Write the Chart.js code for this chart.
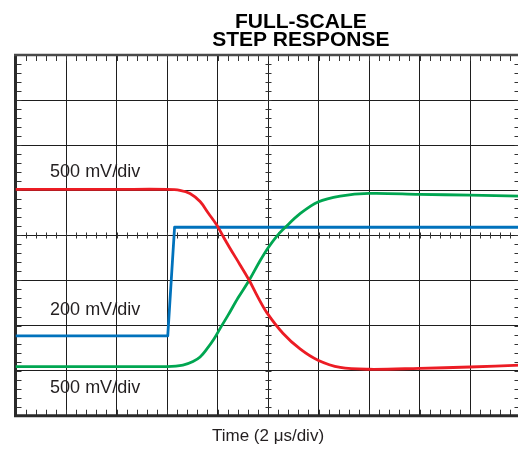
<!DOCTYPE html>
<html><head><meta charset="utf-8">
<script src="https://cdn.jsdelivr.net/npm/chart.js@4.4.1/dist/chart.umd.min.js"></script>
<style>
html,body{margin:0;padding:0;background:#fff;overflow:hidden;width:518px;height:449px}
#wrap{position:relative;width:524px;height:449px}
</style></head>
<body><div id="wrap"><canvas id="c" width="524" height="449"></canvas></div>
<script>
// Time axis in microseconds (2 µs/div, 10 divisions); vertical in screen divisions (8 divisions)
const titleLines = ['FULL-SCALE', 'STEP RESPONSE'];
const xAxisTitle = 'Time (2 \u03BCs/div)';
const traceLabels = ['500 mV/div', '200 mV/div', '500 mV/div'];

const redTime  = [0, 2, 4, 6.0, 6.51, 6.91, 7.31, 7.64, 7.97, 8.23, 8.50, 8.89, 9.25, 9.60, 9.96, 10.59, 11.27, 11.98, 12.86, 14.0, 16.0, 18.0, 20.0];
const redLevel = [5.02, 5.02, 5.02, 5.02, 5.00, 4.93, 4.75, 4.49, 4.23, 3.97, 3.71, 3.35, 3.01, 2.63, 2.28, 1.83, 1.48, 1.23, 1.07, 1.03, 1.05, 1.08, 1.12];

const greenTime  = [0, 2, 4, 6.0, 6.63, 7.03, 7.31, 7.58, 7.86, 8.14, 8.42, 8.81, 9.25, 9.68, 10.0, 10.36, 10.67, 11.27, 11.98, 12.86, 14.0, 16.0, 18.0, 20.0];
const greenLevel = [1.09, 1.09, 1.09, 1.09, 1.12, 1.20, 1.30, 1.48, 1.70, 1.97, 2.23, 2.61, 3.00, 3.43, 3.72, 3.99, 4.17, 4.48, 4.74, 4.87, 4.93, 4.91, 4.89, 4.87];

const blueTime  = [0, 6.03, 6.30, 20.0];
const blueLevel = [1.77, 1.77, 4.18, 4.18];

const toPts = (xs, ys) => xs.map((v, i) => ({x: v, y: ys[i]}));

const scopePlugin = {
  id: 'scope',
  beforeDatasetsDraw(chart) {
    const {ctx, chartArea: a, scales: {x, y}} = chart;
    ctx.save();
    ctx.strokeStyle = '#333';
    ctx.lineWidth = 1;
    ctx.beginPath();
    const cy = Math.round(y.getPixelForValue(4)) + 0.5;
    const cx = Math.round(x.getPixelForValue(10)) + 0.5;
    for (let i = 1; i < 50; i++) {
      const px = Math.round(x.getPixelForValue(i * 0.4)) + 0.5;
      ctx.moveTo(px, a.top); ctx.lineTo(px, a.top + 6);
      ctx.moveTo(px, a.bottom); ctx.lineTo(px, a.bottom - 6);
      ctx.moveTo(px, cy - 3); ctx.lineTo(px, cy + 3);
    }
    for (let j = 1; j < 40; j++) {
      const py = Math.round(y.getPixelForValue(j * 0.2)) + 0.5;
      ctx.moveTo(a.left, py); ctx.lineTo(a.left + 6, py);
      ctx.moveTo(a.right, py); ctx.lineTo(a.right - 6, py);
      ctx.moveTo(cx - 3, py); ctx.lineTo(cx + 3, py);
    }
    ctx.stroke();
    // frame
    ctx.strokeStyle = '#2a2a2a';
    ctx.lineWidth = 3;
    ctx.beginPath();
    ctx.moveTo(a.left, a.top); ctx.lineTo(a.left, a.bottom);
    ctx.moveTo(a.left - 1.5, a.bottom); ctx.lineTo(a.right + 1.5, a.bottom);
    ctx.moveTo(a.right, a.top); ctx.lineTo(a.right, a.bottom);
    ctx.stroke();
    ctx.strokeStyle = '#4a4a4a';
    ctx.lineWidth = 2.5;
    ctx.beginPath();
    ctx.moveTo(a.left - 1.5, a.top); ctx.lineTo(a.right + 1.5, a.top);
    ctx.stroke();
    ctx.restore();
  },
  afterDraw(chart) {
    const {ctx, chartArea: a, scales: {x, y}} = chart;
    ctx.save();
    // title
    ctx.fillStyle = '#000';
    ctx.font = 'bold 21px "Liberation Sans", Arial, sans-serif';
    ctx.textAlign = 'center';
    ctx.textBaseline = 'alphabetic';
    const tx = x.getPixelForValue(11.3);
    ctx.fillText(titleLines[0], tx, a.top - 27.5);
    ctx.fillText(titleLines[1], tx, a.top - 9);
    // trace labels
    ctx.fillStyle = '#231f20';
    ctx.font = '18px "Liberation Sans", Arial, sans-serif';
    ctx.textAlign = 'left';
    const lx = x.getPixelForValue(1.37);
    ctx.fillText(traceLabels[0], lx, y.getPixelForValue(5.29));
    ctx.fillText(traceLabels[1], lx, y.getPixelForValue(2.23));
    ctx.fillText(traceLabels[2], lx, y.getPixelForValue(0.50));
    ctx.restore();
  }
};

new Chart(document.getElementById('c'), {
  type: 'line',
  data: {
    datasets: [
      {data: toPts(redTime, redLevel), borderColor: '#ec1c24', borderWidth: 2.8, pointRadius: 0, tension: 0.35},
      {data: toPts(greenTime, greenLevel), borderColor: '#00a651', borderWidth: 2.8, pointRadius: 0, tension: 0.35},
      {data: toPts(blueTime, blueLevel), borderColor: '#0072bc', borderWidth: 2.8, pointRadius: 0, tension: 0, borderJoinStyle: 'round'}
    ]
  },
  options: {
    responsive: false,
    animation: false,
    devicePixelRatio: 1,
    layout: {padding: {left: 15.5, right: 3.5, top: 55, bottom: 2.3}},
    plugins: {legend: {display: false}, tooltip: {enabled: false}, title: {display: false}},
    scales: {
      x: {
        type: 'linear', min: 0, max: 20,
        ticks: {display: false, stepSize: 2},
        grid: {color: '#1e1e1e', lineWidth: 1, drawTicks: false},
        border: {display: false},
        title: {display: true, text: xAxisTitle, color: '#231f20', font: {family: '"Liberation Sans", Arial, sans-serif', size: 17}, padding: {top: 10.6, bottom: 0}}
      },
      y: {
        type: 'linear', min: 0, max: 8,
        ticks: {display: false, stepSize: 1},
        grid: {color: '#1e1e1e', lineWidth: 1, drawTicks: false},
        border: {display: false}
      }
    }
  },
  plugins: [scopePlugin]
});
</script>
</body></html>
